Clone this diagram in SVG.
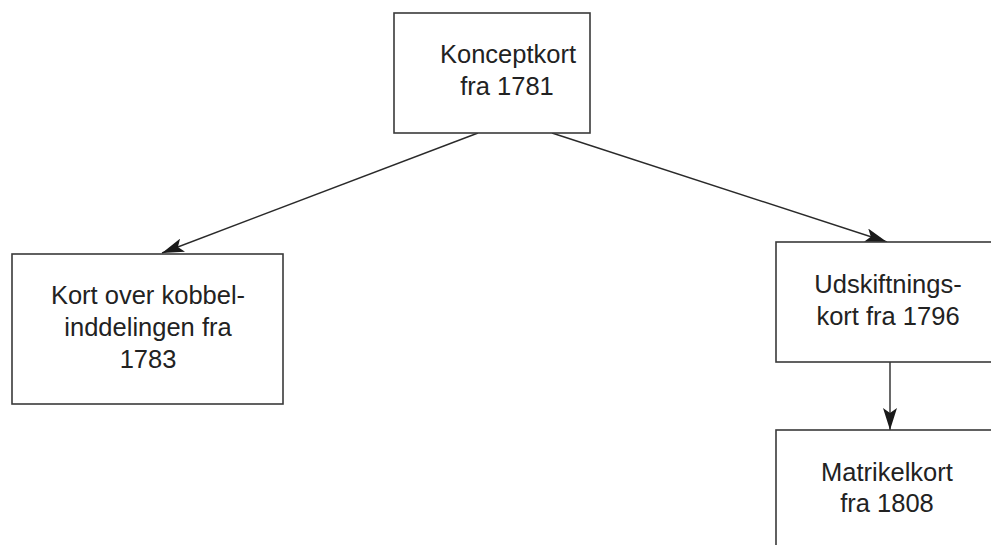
<svg xmlns="http://www.w3.org/2000/svg" width="991" height="545" viewBox="0 0 991 545">
  <style>
    .box { fill: #ffffff; stroke: #3a3a3a; stroke-width: 1.6; }
    .lbl { font-family: "Liberation Sans", Arial, sans-serif; font-size: 25.5px; fill: #222222; text-anchor: middle; }
    .edge { stroke: #2a2a2a; stroke-width: 1.4; fill: none; marker-end: url(#ah); }
  </style>
  <defs>
    <marker id="ah" viewBox="0 0 22 14" refX="22" refY="7" markerWidth="22" markerHeight="14" markerUnits="userSpaceOnUse" orient="auto">
      <path d="M0,0 L22,7 L0,14 L5,7 Z" fill="#1a1a1a"/>
    </marker>
  </defs>
  <rect width="991" height="545" fill="#ffffff"/>
  <g id="connectors">
    <line class="edge" x1="478" y1="133" x2="162" y2="253"/>
    <line class="edge" x1="552" y1="133" x2="887" y2="242"/>
    <line class="edge" x1="890" y1="362" x2="890" y2="430"/>
  </g>
  <g id="konceptkort">
    <rect class="box" x="394" y="13" width="196" height="120"/>
    <text class="lbl" x="508" y="63">Konceptkort</text>
    <text class="lbl" x="507" y="95">fra 1781</text>
  </g>
  <g id="kobbelinddeling">
    <rect class="box" x="12" y="254" width="271" height="150"/>
    <text class="lbl" x="148" y="304">Kort over kobbel-</text>
    <text class="lbl" x="148" y="336">inddelingen fra</text>
    <text class="lbl" x="148" y="368">1783</text>
  </g>
  <g id="udskiftningskort">
    <rect class="box" x="776" y="242" width="230" height="120"/>
    <text class="lbl" x="888" y="293">Udskiftnings-</text>
    <text class="lbl" x="888" y="325">kort fra 1796</text>
  </g>
  <g id="matrikelkort">
    <rect class="box" x="776" y="430" width="230" height="130"/>
    <text class="lbl" x="887" y="481">Matrikelkort</text>
    <text class="lbl" x="887" y="512">fra 1808</text>
  </g>
</svg>
